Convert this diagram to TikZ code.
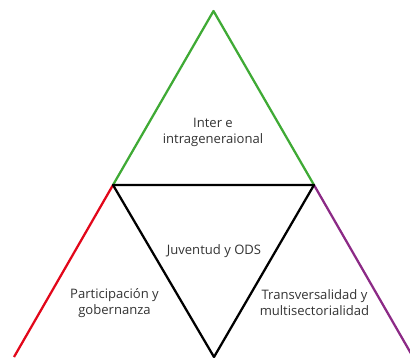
\documentclass[tikz,border=0pt]{standalone}
\usepackage{fontspec}
\setmainfont{Open Sans}
\definecolor{txtgray}{HTML}{333333}
\definecolor{sidegreen}{HTML}{3FAA35}
\definecolor{sidered}{HTML}{E2071A}
\definecolor{sidepurple}{HTML}{8C2A86}
\begin{document}
\begin{tikzpicture}[x=0.75pt,y=-0.75pt,line join=round,
        side/.style={line width=1.7pt},
        label/.style={text=txtgray,font=\fontsize{9.8}{12}\selectfont,align=center,inner sep=0},
        ]
        \useasboundingbox (0,0) rectangle (410,357);
        \coordinate (top) at (213.5,11);
        \coordinate (bl) at (113,185);
        \coordinate (br) at (314,185);
        \coordinate (bot) at (214,357);
        \coordinate (fl) at (14,357);
        \coordinate (fr) at (413,357);

        \draw[side,sidegreen] (bl) -- (top) -- (br);
        \draw[side,sidered] (bl) -- (fl);
        \draw[side,sidepurple] (br) -- (fr);
        \draw[side,black] (bl) -- (br) -- (bot) -- cycle;

        \node[label] (inter) at (213,132) {Inter e\\intrageneraional};
        \node[label] (ods) at (214,251) {Juventud y ODS};
        \node[label] (part) at (114.5,303) {Participación y\\gobernanza};
        \node[label] (trans) at (314.5,303) {Transversalidad y\\multisectorialidad};
\end{tikzpicture}
\end{document}
